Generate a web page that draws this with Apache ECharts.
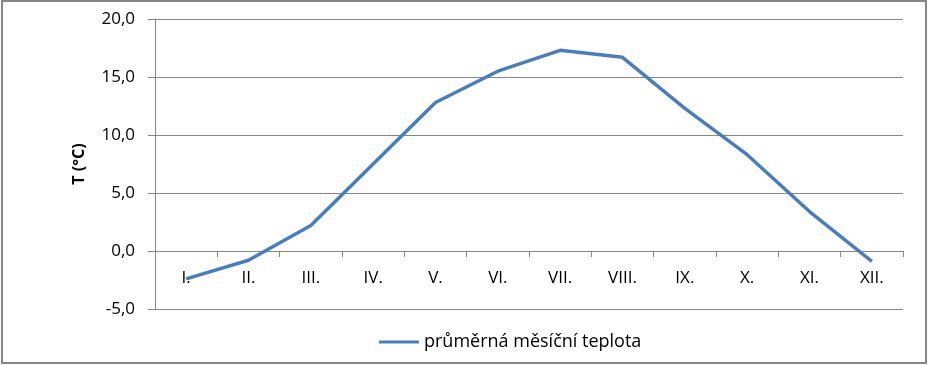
<!DOCTYPE html>
<html>
<head>
<meta charset="utf-8">
<script src="https://cdn.jsdelivr.net/npm/echarts@6/dist/echarts.min.js"></script>
<style>
html,body{margin:0;padding:0;background:#fff;}
#c{width:929px;height:365px;}
</style>
</head>
<body>
<div id="c"></div>
<script>
var categories = ['I.', 'II.', 'III.', 'IV.', 'V.', 'VI.', 'VII.', 'VIII.', 'IX.', 'X.', 'XI.', 'XII.'];
var temperature = [-2.4, -0.8, 2.2, 7.5, 12.8, 15.5, 17.3, 16.7, 12.3, 8.3, 3.4, -0.9];
var seriesName = 'průměrná měsíční teplota';
var yAxisTitle = 'T (°C)';

var chart = echarts.init(document.getElementById('c'), null, {renderer: 'canvas'});
var font = "'Open Sans', 'Noto Sans', sans-serif";
var gray = '#868686';
chart.setOption({
  animation: false,
  backgroundColor: '#fff',
  graphic: [{
    type: 'rect',
    shape: {x: 2, y: 1, width: 924, height: 362},
    style: {fill: 'none', stroke: gray, lineWidth: 2},
    silent: true
  }],
  grid: {left: 155, right: 26, top: 19, bottom: 56, containLabel: false},
  legend: {
    left: 374,
    top: 328,
    itemWidth: 40,
    itemHeight: 14,
    itemGap: 10,
    textStyle: {fontFamily: font, fontSize: 18, color: '#000', padding: [0,0,0,0]},
    data: [{name: seriesName, icon: 'path://M0,6 L40,6 L40,9 L0,9 Z'}]
  },
  xAxis: {
    type: 'category',
    data: categories,
    boundaryGap: true,
    axisLine: {onZero: true, lineStyle: {color: gray, width: 1}},
    axisTick: {show: true, length: 6, lineStyle: {color: gray}},
    axisLabel: {margin: -39, fontFamily: font, fontSize: 17, color: '#000'},
    splitLine: {show: false}
  },
  yAxis: {
    type: 'value',
    min: -5,
    max: 20,
    interval: 5,
    name: yAxisTitle,
    nameLocation: 'middle',
    nameGap: 68,
    nameTextStyle: {fontFamily: font, fontSize: 16, fontWeight: 'bold', color: '#000'},
    axisLine: {show: true, lineStyle: {color: gray, width: 1}},
    axisTick: {show: true, length: 7, lineStyle: {color: gray}},
    axisLabel: {
      margin: 20, fontFamily: font, fontSize: 17, color: '#000',
      formatter: function (v) { return v.toFixed(1).replace('.', ','); }
    },
    splitLine: {show: true, lineStyle: {color: gray, width: 1}}
  },
  series: [{
    name: seriesName,
    type: 'line',
    data: temperature,
    symbol: 'none',
    lineStyle: {color: '#4A7EBB', width: 3.5},
    itemStyle: {color: '#4A7EBB'}
  }]
});
</script>
</body>
</html>
